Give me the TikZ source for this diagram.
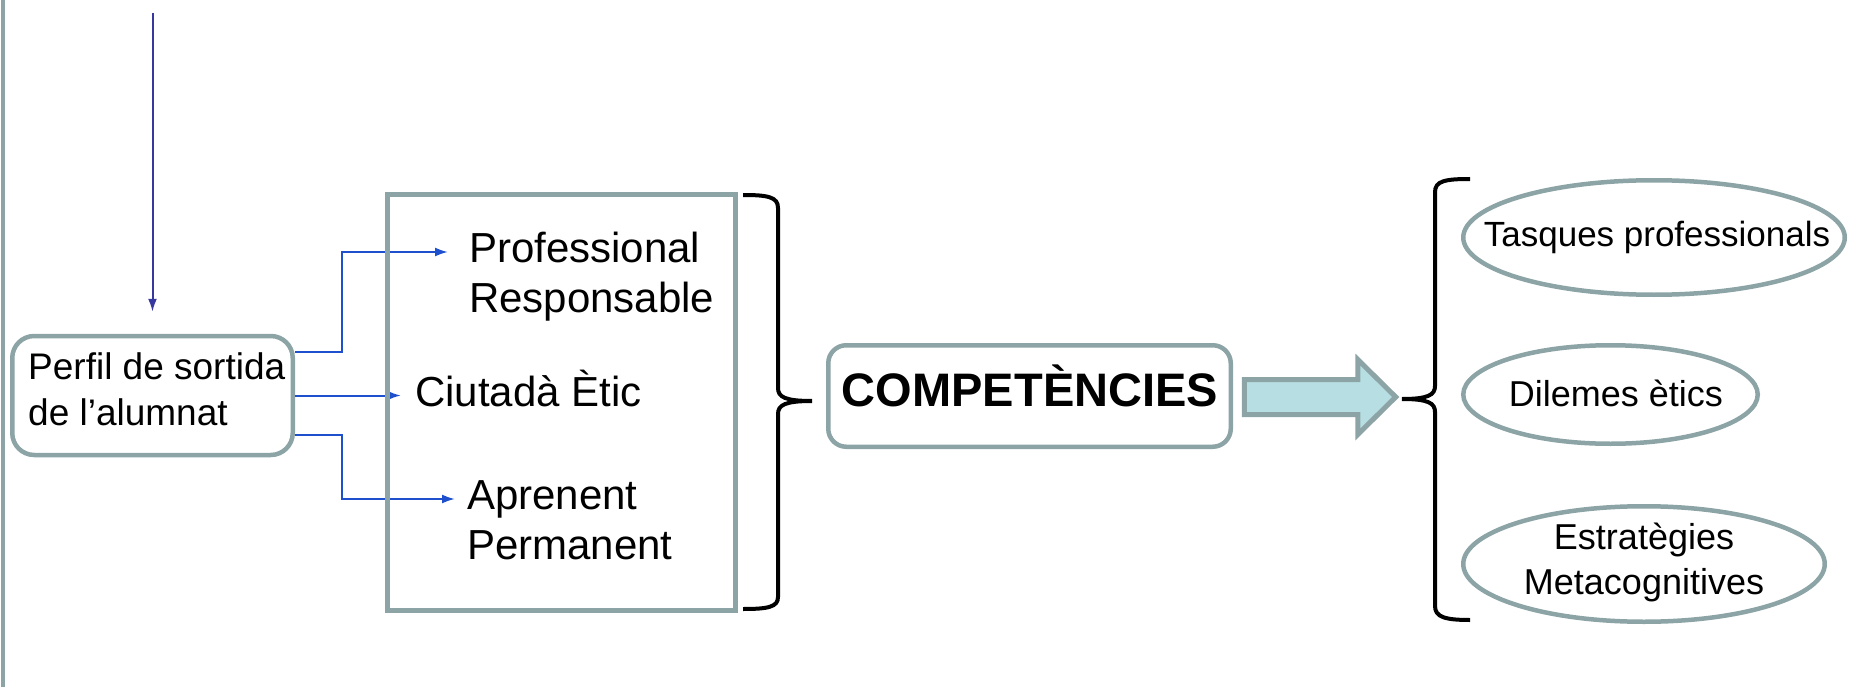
\documentclass[tikz,border=0pt]{standalone}
\usepackage{fontspec}
\setmainfont{Liberation Sans}
\usetikzlibrary{arrows.meta,calc,shapes.geometric}
\definecolor{bordergray}{RGB}{140,164,166}
\definecolor{connblue}{RGB}{30,80,205}
\definecolor{vblue}{RGB}{55,55,160}
\definecolor{arrowfill}{RGB}{183,223,227}
\begin{document}
\begin{tikzpicture}[x=1pt,y=-1pt,
  graybox/.style={draw=bordergray, line width=4.5pt, rounded corners=#1, inner sep=0pt},
  conn/.style={draw=connblue, line width=2pt, -{Latex[length=13pt,width=9pt]}},
  vconn/.style={draw=vblue, line width=2pt, -{Latex[length=13pt,width=9pt]}},
  oval/.style={ellipse, draw=bordergray, line width=4.5pt, inner sep=0pt},
  ovaltext/.style={inner sep=0pt, align=center, font=\fontsize{36}{45}\selectfont},
  bigtext/.style={inner sep=0pt, align=left, font=\fontsize{42}{50}\selectfont},
  bracestyle/.style={draw=black, line width=4pt},
  blockarrow/.style={draw=bordergray, fill=arrowfill, line width=5pt, line join=miter}
]
\useasboundingbox (0,0) rectangle (1849,687);

% left border line
\coordinate (lbtop) at (2.5,0);
\coordinate (lbbot) at (2.5,687);
\draw[bordergray, line width=4pt] (lbtop) -- (lbbot);

% perfil box
\node[graybox=22pt, minimum width=280.5pt, minimum height=119pt] (perfil) at (152.5,395.5) {};
\node[inner sep=0pt, anchor=north west, align=left, font=\fontsize{37}{46}\selectfont] (perfiltext) at (28,352) {Perfil de sortida\\de l’alumnat};

% vertical arrow
\coordinate (vtop) at (152.5,13);
\draw[vconn] (vtop) -- ([yshift=22pt]perfil.north);

% targets
\node[bigtext, anchor=north west] (prof) at (469,231.5) {Professional\\Responsable};
\node[bigtext, anchor=base west] (ciut) at (415,406) {Ciutadà Ètic};
\node[bigtext, anchor=north west] (apren) at (467,480) {Aprenent\\Permanent};

\coordinate (t1) at (448,252);
\coordinate (t2) at (401,395.5);
\coordinate (t3) at (455,499);

\draw[conn] ($(perfil.east)+(0,-43.5)$) -| ($(t1)+(-106,0)$) -- (t1);
\draw[conn] (perfil.east) -- (t2);
\draw[conn] ($(perfil.east)+(0,39.5)$) -| ($(t3)+(-113,0)$) -- (t3);

% frame
\node[draw=bordergray, line width=5pt, minimum width=348pt, minimum height=415pt, inner sep=0pt] (frame) at (561,402.5) {};

% left brace
\draw[bracestyle] (743,195) .. controls (768,195) and (778,197) .. (778,208) -- (778,388)
  .. controls (778,397) and (785,401) .. (812,401)
  .. controls (785,401) and (778,405) .. (778,414) -- (778,597)
  .. controls (778,607) and (768,609) .. (743,609);

% competencies
\node[graybox=18pt, minimum width=402.5pt, minimum height=101.5pt] (comp) at (1029.5,396) {};
\node[inner sep=0pt, anchor=base, font=\fontsize{47}{56}\selectfont\bfseries] (comptext) at (1030,406) {COMPETÈNCIES};

% block arrow
\coordinate (ba) at ([xshift=11.25pt]comp.east);
\draw[blockarrow] ($(ba)+(0,-16.5)$) -- ++(113.5,0) -- ++(0,-20) -- ++(38,37.5) -- ++(-38,37.5) -- ++(0,-20) -- ++(-113.5,0) -- cycle;

% right brace
\draw[bracestyle] (1470,179) .. controls (1445,179) and (1435,181) .. (1435,192) -- (1435,386)
  .. controls (1435,395) and (1428,399) .. (1402,399)
  .. controls (1428,399) and (1435,403) .. (1435,412) -- (1435,606)
  .. controls (1435,617) and (1445,620) .. (1470,620);

% ovals
\node[oval, minimum width=381.5pt, minimum height=114.5pt] (e1) at (1654,237.5) {};
\node[oval, minimum width=294.5pt, minimum height=98.5pt] (e2) at (1610.5,394.5) {};
\node[oval, minimum width=361.5pt, minimum height=115.5pt] (e3) at (1644,564) {};
\node[ovaltext, anchor=base, font=\fontsize{35}{44}\selectfont] (e1text) at (1657,246) {Tasques professionals};
\node[ovaltext, anchor=base] (e2text) at (1616,406) {Dilemes ètics};
\node[ovaltext, anchor=north] (e3text) at (1644,523) {Estratègies\\Metacognitives};
\end{tikzpicture}
\end{document}
